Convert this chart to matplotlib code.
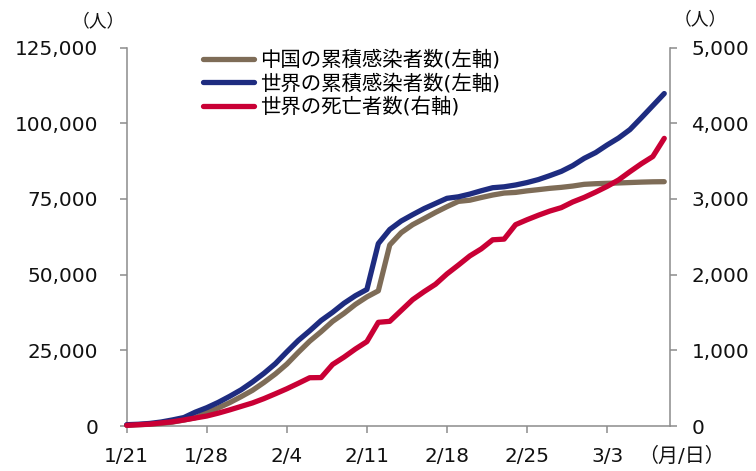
import matplotlib
matplotlib.use('Agg')
import matplotlib.pyplot as plt
import numpy as np
import pandas as pd

plt.rcParams['font.family'] = ['DejaVu Sans', 'Noto Sans CJK JP']

# ---- data ----
dates = pd.date_range('2020-01-21', '2020-03-08', freq='D')
china_cases = [291, 440, 571, 830, 1287, 1975, 2744, 4515, 5974, 7711, 9692, 11791,
               14380, 17205, 20438, 24324, 28018, 31161, 34546, 37198, 40171, 42638,
               44653, 59804, 63851, 66492, 68500, 70548, 72436, 74185, 74576, 75465,
               76288, 76936, 77150, 77658, 78064, 78497, 78824, 79251, 79824, 80026,
               80151, 80270, 80409, 80552, 80651, 80695]
world_cases = [440, 580, 845, 1320, 2010, 2800, 4580, 6050, 7800, 9800, 11950, 14550,
               17400, 20600, 24500, 28250, 31450, 34850, 37550, 40550, 43050, 45100,
               60250, 64900, 67700, 69800, 71800, 73500, 75200, 75700, 76600, 77700,
               78700, 79000, 79600, 80400, 81400, 82700, 84100, 86000, 88400, 90300,
               92800, 95100, 97900, 101800, 105800, 109800]
world_deaths = [9, 17, 25, 41, 56, 80, 106, 132, 170, 213, 259, 305, 362, 426, 492,
                564, 638, 640, 813, 910, 1018, 1115, 1370, 1383, 1526, 1669, 1775,
                1873, 2009, 2126, 2247, 2340, 2460, 2469, 2660, 2725, 2785, 2840,
                2885, 2960, 3020, 3090, 3165, 3250, 3360, 3465, 3560, 3800]
series_names = ['中国の累積感染者数(左軸)', '世界の累積感染者数(左軸)', '世界の死亡者数(右軸)']
x_tick_labels = ['1/21', '1/28', '2/4', '2/11', '2/18', '2/25', '3/3']
left_ticks = [0, 25000, 50000, 75000, 100000, 125000]
right_ticks = [0, 1000, 2000, 3000, 4000, 5000]

c_brown = '#7E6C57'
c_navy = '#1E2C80'
c_red = '#C90035'
c_axis = '#8C8C8C'
lw = 3.8
fs = 14.4

fig = plt.figure(figsize=(7.56, 4.71), dpi=100)
ax = fig.add_axes([0.1676, 0.0955, 0.7186, 0.8036])
ax2 = ax.twinx()

x = np.arange(len(dates))
l1, = ax.plot(x, china_cases, color=c_brown, lw=lw, solid_capstyle='round',
              solid_joinstyle='round', clip_on=False, zorder=3)
l2, = ax.plot(x, world_cases, color=c_navy, lw=lw, solid_capstyle='round',
              solid_joinstyle='round', clip_on=False, zorder=4)
l3, = ax2.plot(x, world_deaths, color=c_red, lw=lw, solid_capstyle='round',
               solid_joinstyle='round', clip_on=False, zorder=5)

ax.set_xlim(0, 47.5)
ax.set_ylim(0, 125000)
ax2.set_ylim(0, 5000)

ax.set_xticks(x[::7][:len(x_tick_labels)])
ax.set_xticklabels(x_tick_labels)
ax.set_yticks(left_ticks)
ax.set_yticklabels([f'{v:,}' for v in left_ticks])
ax2.set_yticks(right_ticks)
ax2.set_yticklabels([f'{v:,}' for v in right_ticks])

for a in (ax, ax2):
    for s in a.spines.values():
        s.set_color(c_axis)
        s.set_linewidth(1.1)
    a.spines['top'].set_visible(False)
    a.patch.set_visible(False)
ax.spines['right'].set_visible(False)
ax2.spines['left'].set_visible(False)
ax2.spines['bottom'].set_visible(False)

ax.tick_params(axis='x', direction='out', length=5, width=1.1, color=c_axis,
               labelsize=fs, pad=10, labelcolor='#111111')
ax.tick_params(axis='y', direction='out', length=5, width=1.1, color=c_axis,
               labelsize=fs, pad=15.5, labelcolor='#111111')
ax2.tick_params(axis='y', direction='out', length=5, width=1.1, color=c_axis,
                labelsize=fs, pad=10.5, labelcolor='#111111')

fig.text(98.7 / 756, 1 - 21 / 471, '（人）', ha='center', va='center', fontsize=12.8,
         color='#111111')
fig.text(700 / 756, 1 - 19 / 471, '（人）', ha='center', va='center', fontsize=12.8,
         color='#111111')
fig.text(681 / 756, 1 - 456 / 471, '（月/日）', ha='center', va='center', fontsize=fs,
         color='#111111')

leg = ax2.legend([l1, l2, l3], series_names, loc='upper left',
                 bbox_to_anchor=(202.8 / 756, 1 - 50 / 471), bbox_transform=fig.transFigure,
                 frameon=False, fontsize=14.7, handlelength=2.5, handletextpad=0.3,
                 borderpad=0, borderaxespad=0, labelspacing=0.18)
for h in leg.get_lines():
    h.set_solid_capstyle('round')

fig.savefig('out.png', dpi=100)
